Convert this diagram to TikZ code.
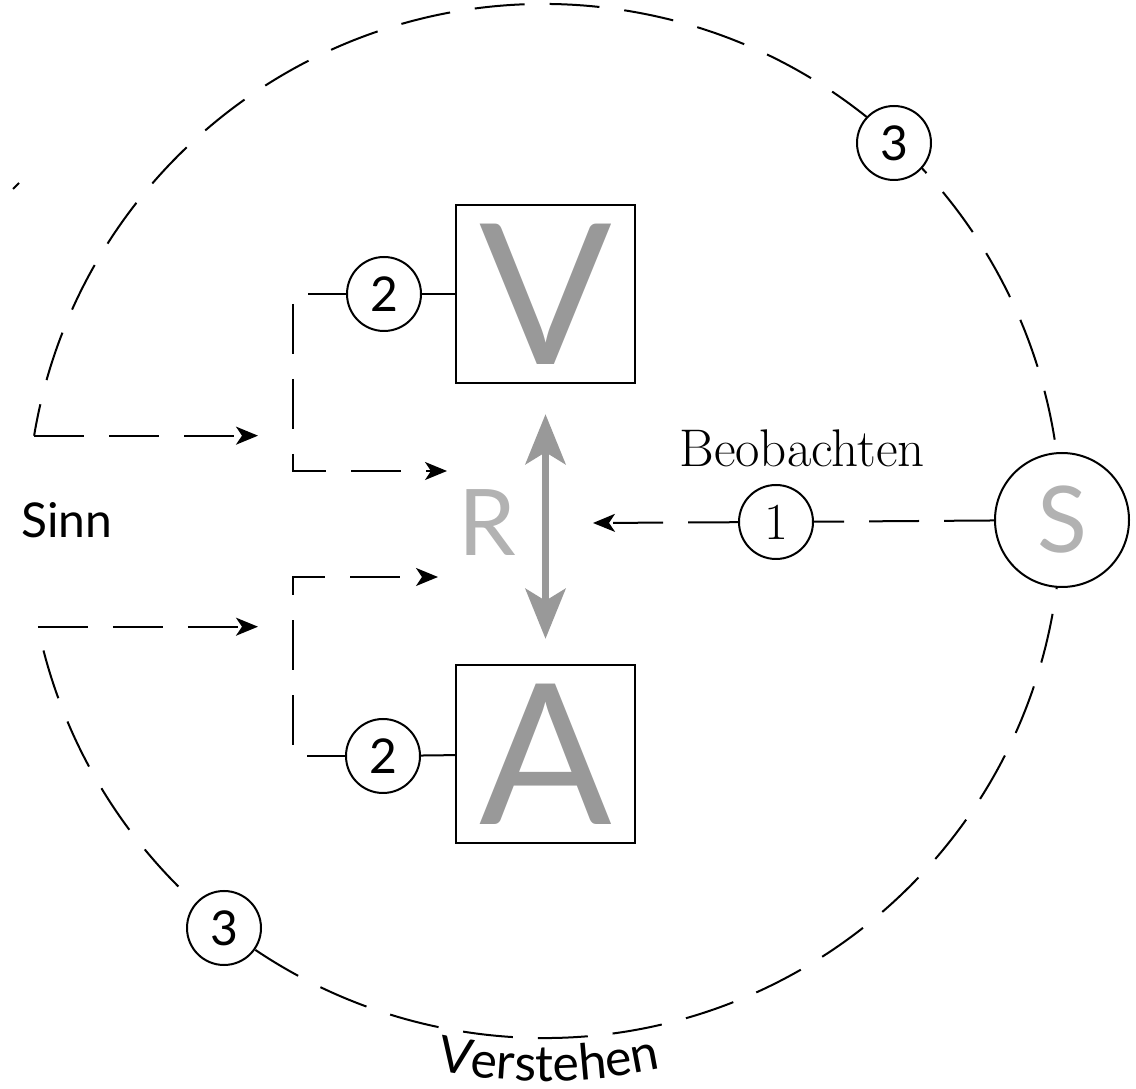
\documentclass[tikz,border=0pt]{standalone}
\usepackage{fontspec}
\newfontfamily\lato{Lato}
\newcommand\verfont{\lato\fontsize{25}{25}\selectfont}
\usetikzlibrary{arrows.meta,decorations.text}

\begin{document}
\begin{tikzpicture}[x=0.5pt,y=0.5pt,
  dashline/.style={line width=1pt,dash pattern=on 25pt off 12.5pt},
  solidline/.style={line width=1pt},
  tip/.style={-{Stealth[length=11pt,width=9pt,inset=3pt]}},
  num/.style={circle,draw,fill=white,line width=1pt,inner sep=0pt,
    minimum size=37pt,font=\lato\fontsize{24}{24}\selectfont},
  letterbox/.style={draw,line width=1.2pt,inner sep=0pt,
    minimum width=89.5pt,minimum height=89pt,text=black!40,
    font=\lato\fontsize{98}{98}\selectfont},
  faint/.style={text=black!30,font=\lato\fontsize{46}{46}\selectfont},
  label/.style={font=\lato\fontsize{24}{24}\selectfont}
]
\useasboundingbox (0,0) rectangle (1136,1088);

% outer dashed circle, open on the left
\coordinate (O) at (544,567);
\draw[dashline,dash phase=9pt] (O) ++(170.5:517) coordinate (ArcT)
  arc[start angle=170.5,end angle=-168.2,radius=517] coordinate (ArcB);

% "Sinn" inputs
\coordinate (SinnX) at (258,0);
\draw[dashline,tip] (ArcT) -- (ArcT -| SinnX);
\draw[dashline,tip] (ArcB) -- (ArcB -| SinnX);
\node[label] (sinn) at (67,568) {Sinn};
\draw[solidline] (13,899) -- (19,905);

% boxes V and A with their numbered links
\node[letterbox] (V) at (545.5,794) {V};
\node[letterbox] (A) at (545.5,334) {A};
\node[num] (n2u) at (384,794) {2};
\node[num] (n2l) at (383,332) {2};
\draw[solidline] (n2u) -- (V);
\draw[solidline] (n2l) -- (A);

% brackets leading into R
\coordinate (BUc) at (293,794);
\coordinate (BUd) at (293,617);
\coordinate (BUe) at (447,617);
\coordinate (BLc) at (293,332);
\coordinate (BLd) at (293,511);
\coordinate (BLe) at (438,511);
\draw[dashline,dash phase=6pt,tip] (n2u.west) -- (BUc) -- (BUd) -- (BUe);
\draw[dashline,dash phase=6pt,tip] (n2l.west) -- (BLc) -- (BLd) -- (BLe);

% R and the double arrow between V and A
\node[faint] (R) at (487,565) {R};
\draw[black!40,line width=3.5pt,
  {Stealth[length=25pt,width=20pt,inset=6pt]}-{Stealth[length=25pt,width=20pt,inset=6pt]},
  shorten <=15pt,shorten >=12.5pt] (V.south) -- (A.north);

% observation path from S
\node[circle,draw,fill=white,line width=1pt,inner sep=0pt,minimum size=67pt,
  faint] (S) at (1062,568) {S};
\node[num,font=\fontsize{26}{26}\selectfont] (n1) at (776,566) {1};
\coordinate (Rtip) at (593,565);
\draw[dashline] (S) -- (n1);
\draw[dashline,tip] (n1) -- (Rtip);
\node[font=\fontsize{26.5}{26.5}\selectfont] (beob) at (802,640) {Beobachten};

% numbered marks on the outer circle
\node[num] (n3a) at (894,945) {3};
\node[num] (n3b) at (224,160) {3};

% curved caption under the circle
\path[decorate,decoration={text along path,text align=center,
  text={|\verfont|Verstehen}}]
  (O) ++(250:560) arc[start angle=250,end angle=291,radius=560];
\end{tikzpicture}
\end{document}
